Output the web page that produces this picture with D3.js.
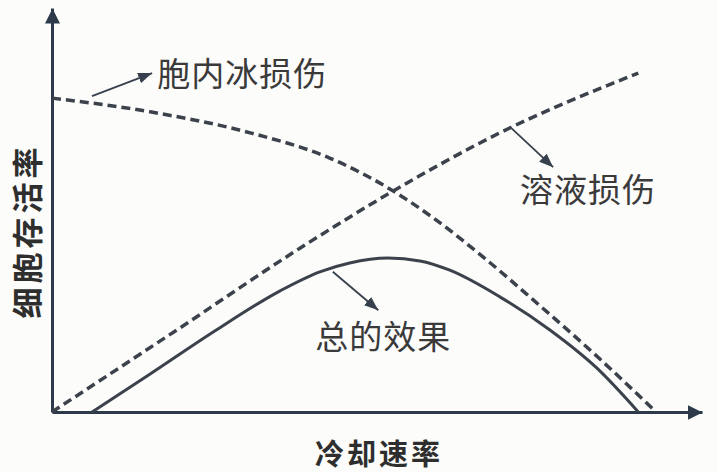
<!DOCTYPE html>
<html>
<head>
<meta charset="utf-8">
<script src="https://cdn.jsdelivr.net/npm/d3@7"></script>
<style>
  html, body { margin: 0; padding: 0; background: #fcfcfa; }
  svg { display: block; }
</style>
</head>
<body>
<div id="chart"></div>
<script>
// ---- data (cooling rate vs. cell survival, arbitrary units 0..100) ----
const iceX = [0, 15.1, 30.5, 42.8, 52.5, 58.6, 66.3, 74.0, 84.3, 92.6];
const iceY = [77.7, 74.3, 69.1, 62.8, 54.7, 48.1, 38.4, 27.8, 13.1, 0.5];

const solX = [0, 19.2, 38.2, 52.5, 68.9, 90.2];
const solY = [0, 20.3, 40.6, 54.7, 69.1, 83.9];

const totX = [6.15, 15.1, 24.8, 35.1, 41.2, 45.8, 51.7, 56.6, 61.2, 68.9, 76.6, 83.8, 90.2];
const totY = [0, 9.4, 19.8, 30.0, 34.7, 36.9, 38.1, 37.4, 35.1, 28.5, 20.3, 10.9, 0];

const xTitle = "冷却速率";
const yTitle = "细胞存活率";

// annotation labels: text, label anchor (data units), arrow from -> to (data units)
const labelText = ["胞内冰损伤", "溶液损伤", "总的效果"];
const labelX = [16.2, 72.0, 40.5];
const labelY = [84.2, 55.4, 19.1];
const arrowFromX = [6.15, 70.5, 43.2];
const arrowFromY = [78.2, 70.5, 34.7];
const arrowToX = [15.4, 77.1, 50.2];
const arrowToY = [83.9, 60.6, 25.2];

// ---- drawing ----
const W = 717, H = 472;
const svg = d3.select("#chart").append("svg").attr("width", W).attr("height", H);
svg.append("rect").attr("width", W).attr("height", H).attr("fill", "#fcfcfa");

const x = d3.scaleLinear().domain([0, 100]).range([52, 702]);
const y = d3.scaleLinear().domain([0, 100]).range([412, 8]);

const axisColor = "#2c3a49";
const curveColor = "#3c424c";

const defs = svg.append("defs");
function marker(id, len, wid, color) {
  defs.append("marker")
    .attr("id", id)
    .attr("markerUnits", "userSpaceOnUse")
    .attr("viewBox", `0 0 ${len} ${wid}`)
    .attr("refX", len).attr("refY", wid / 2)
    .attr("markerWidth", len).attr("markerHeight", wid)
    .attr("orient", "auto")
    .append("path")
    .attr("d", `M0,0L${len},${wid / 2}L0,${wid}Z`)
    .attr("fill", color);
}
marker("axisHead", 15, 15, axisColor);
marker("annHead", 14, 11, "#37414d");

// axes (no ticks)
const gx = svg.append("g").attr("transform", `translate(0,${y(0)})`)
  .call(d3.axisBottom(x).tickValues([]).tickSizeOuter(0));
gx.select(".domain").attr("stroke", axisColor).attr("stroke-width", 3)
  .attr("marker-end", "url(#axisHead)");

const gy = svg.append("g").attr("transform", `translate(${x(0)},0)`)
  .call(d3.axisLeft(y).tickValues([]).tickSizeOuter(0));
gy.select(".domain").attr("stroke", axisColor).attr("stroke-width", 3)
  .attr("marker-end", "url(#axisHead)");

// curves
const line = d3.line().x(d => x(d[0])).y(d => y(d[1])).curve(d3.curveMonotoneX);
const zip = (a, b) => a.map((v, i) => [v, b[i]]);

svg.append("path").datum(zip(iceX, iceY)).attr("d", line)
  .attr("fill", "none").attr("stroke", curveColor).attr("stroke-width", 3.5)
  .attr("stroke-dasharray", "9 5");
svg.append("path").datum(zip(solX, solY)).attr("d", line)
  .attr("fill", "none").attr("stroke", curveColor).attr("stroke-width", 3.5)
  .attr("stroke-dasharray", "9 5");
svg.append("path").datum(zip(totX, totY)).attr("d", line)
  .attr("fill", "none").attr("stroke", curveColor).attr("stroke-width", 3);

// annotation arrows
labelText.forEach((t, i) => {
  svg.append("line")
    .attr("x1", x(arrowFromX[i])).attr("y1", y(arrowFromY[i]))
    .attr("x2", x(arrowToX[i])).attr("y2", y(arrowToY[i]))
    .attr("stroke", "#37414d").attr("stroke-width", 1.8)
    .attr("marker-end", "url(#annHead)");
  svg.append("text")
    .attr("x", x(labelX[i])).attr("y", y(labelY[i]))
    .attr("dominant-baseline", "central")
    .attr("font-family", "'Noto Sans CJK SC', sans-serif")
    .attr("font-size", 33).attr("letter-spacing", 1)
    .attr("fill", "#3a3a3a")
    .text(t);
});

// axis titles
svg.append("text")
  .attr("x", 379).attr("y", 452)
  .attr("text-anchor", "middle").attr("dominant-baseline", "central")
  .attr("font-family", "'Noto Sans CJK SC', sans-serif")
  .attr("font-weight", "bold").attr("font-size", 29).attr("letter-spacing", 3)
  .attr("fill", "#2e2e2e")
  .text(xTitle);

svg.append("text")
  .attr("transform", "translate(25,231) rotate(-90)")
  .attr("text-anchor", "middle").attr("dominant-baseline", "central")
  .attr("font-family", "'Noto Sans CJK SC', sans-serif")
  .attr("font-weight", "bold").attr("font-size", 31).attr("letter-spacing", 4)
  .attr("fill", "#2e2e2e")
  .text(yTitle);
</script>
</body>
</html>
